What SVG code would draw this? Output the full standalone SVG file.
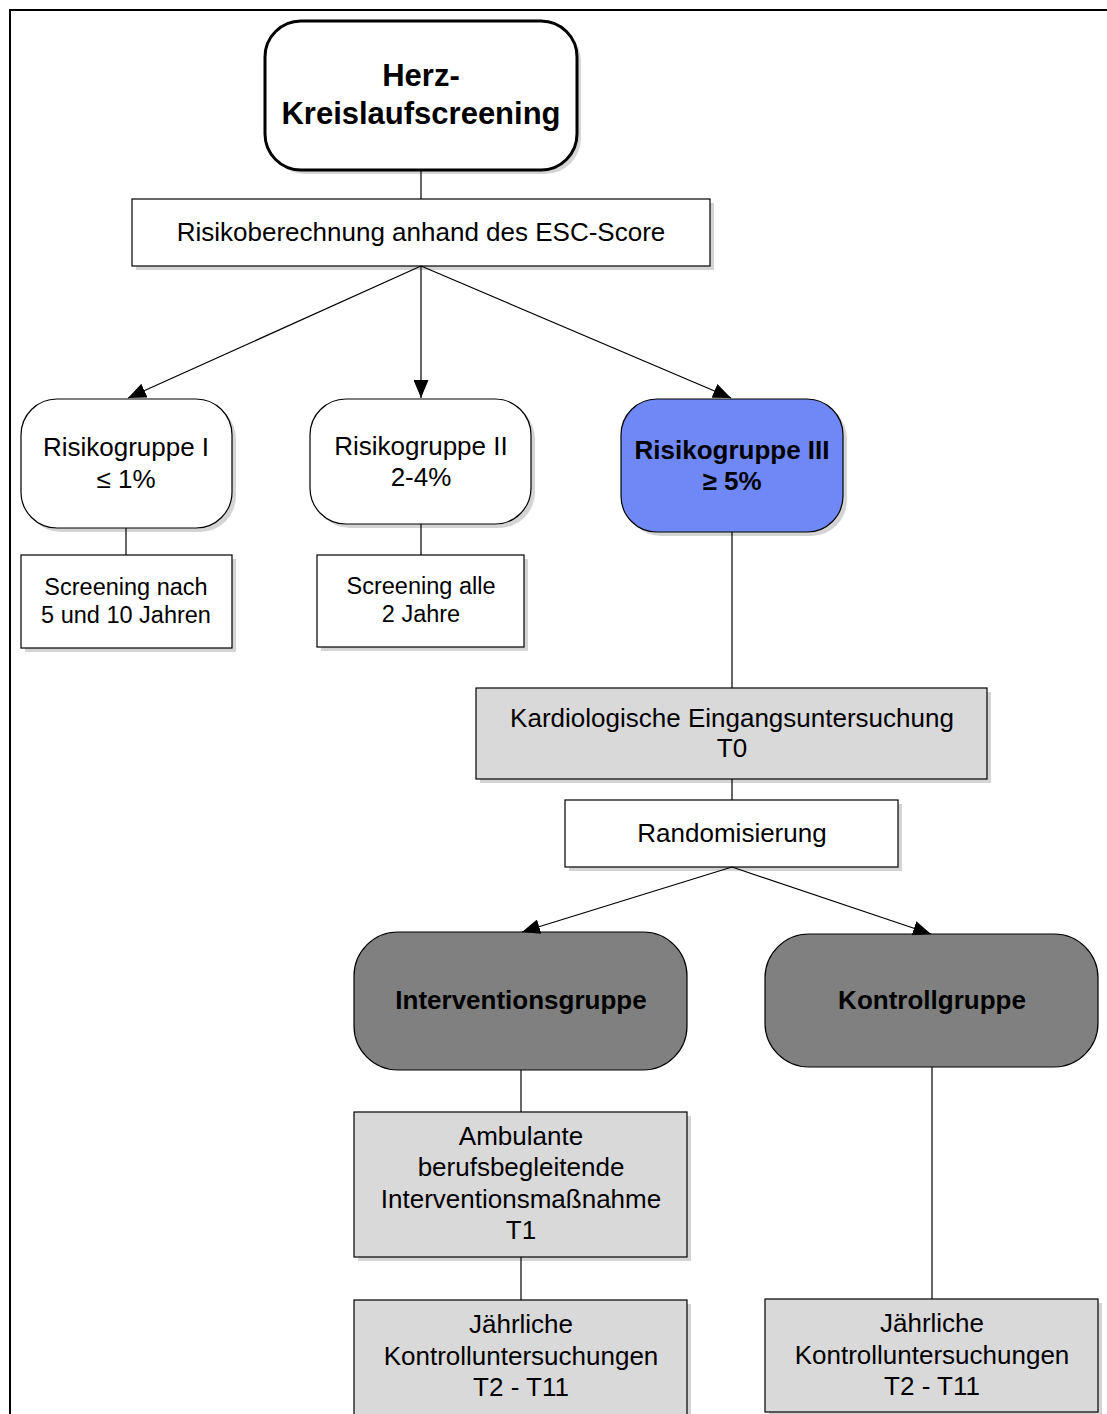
<svg xmlns="http://www.w3.org/2000/svg" width="1107" height="1414" viewBox="0 0 1107 1414">
<style>
text{font-family:"Liberation Sans",Arial,sans-serif;text-anchor:middle;fill:#000}
.r{font-size:26px}
.s{font-size:23.5px}
.b{font-size:26px;font-weight:bold}
.t{font-size:31px;font-weight:bold}
.box{stroke:#000;stroke-width:1.2}
.sh{fill:#d4d4d4}
.w{fill:#fff}
.g{fill:#d9d9d9}
.dg{fill:#808080}
.bl{fill:#6f88f5}
.c{stroke:#000;stroke-width:1.2;fill:none}
</style>
<defs>
<marker id="ah" viewBox="0 0 18 15" refX="18" refY="7.5" markerWidth="18" markerHeight="15" markerUnits="userSpaceOnUse" orient="auto">
<path d="M0,0 L18,7.5 L0,15 Z" fill="#000"/>
</marker>
</defs>
<rect width="1107" height="1414" fill="#fff"/>
<path d="M10,1414 V10 H1107" fill="none" stroke="#000" stroke-width="2"/>

<g id="n-title">
<rect class="sh" x="269" y="25" width="312" height="149" rx="36"/>
<rect x="265" y="21" width="312" height="149" rx="36" fill="#fff" stroke="#000" stroke-width="3"/>
<text class="t" x="421" y="86">Herz-</text>
<text class="t" x="421" y="124">Kreislaufscreening</text>
</g>

<g id="n-esc">
<rect class="sh" x="136" y="203" width="578" height="67"/>
<rect class="box w" x="132" y="199" width="578" height="67"/>
<text class="r" x="421" y="241">Risikoberechnung anhand des ESC-Score</text>
</g>

<g id="n-rg1">
<rect class="sh" x="25" y="403" width="211" height="129" rx="36"/>
<rect class="box w" x="21" y="399" width="211" height="129" rx="36"/>
<text class="r" x="126" y="456">Risikogruppe I</text>
<text class="r" x="126" y="488">≤ 1%</text>
</g>

<g id="n-rg2">
<rect class="sh" x="314" y="403" width="221" height="125" rx="36"/>
<rect class="box w" x="310" y="399" width="221" height="125" rx="36"/>
<text class="r" x="421" y="455">Risikogruppe II</text>
<text class="r" x="421" y="486">2-4%</text>
</g>

<g id="n-rg3">
<rect class="sh" x="625" y="403" width="222" height="133" rx="36"/>
<rect class="box bl" x="621" y="399" width="222" height="133" rx="36"/>
<text class="b" x="732" y="459">Risikogruppe III</text>
<text class="b" x="732" y="490">≥ 5%</text>
</g>

<g id="n-scr1">
<rect class="sh" x="25" y="559" width="211" height="93"/>
<rect class="box w" x="21" y="555" width="211" height="93"/>
<text class="s" x="126" y="595">Screening nach</text>
<text class="s" x="126" y="623">5 und 10 Jahren</text>
</g>

<g id="n-scr2">
<rect class="sh" x="321" y="559" width="207" height="92"/>
<rect class="box w" x="317" y="555" width="207" height="92"/>
<text class="s" x="421" y="594">Screening alle</text>
<text class="s" x="421" y="622">2 Jahre</text>
</g>

<g id="n-kardio">
<rect class="sh" x="480" y="692" width="511" height="91"/>
<rect class="box g" x="476" y="688" width="511" height="91"/>
<text class="r" x="732" y="727">Kardiologische Eingangsuntersuchung</text>
<text class="r" x="732" y="757">T0</text>
</g>

<g id="n-random">
<rect class="sh" x="569" y="804" width="333" height="67"/>
<rect class="box w" x="565" y="800" width="333" height="67"/>
<text class="r" x="732" y="842">Randomisierung</text>
</g>

<g id="n-interv">
<rect class="box dg" x="354" y="932" width="333" height="138" rx="44"/>
<text class="b" x="521" y="1009">Interventionsgruppe</text>
</g>

<g id="n-kontroll">
<rect class="box dg" x="765" y="934" width="333" height="133" rx="44"/>
<text class="b" x="932" y="1009">Kontrollgruppe</text>
</g>

<g id="n-ambulant">
<rect class="sh" x="358" y="1116" width="333" height="145"/>
<rect class="box g" x="354" y="1112" width="333" height="145"/>
<text class="r" x="521" y="1145">Ambulante</text>
<text class="r" x="521" y="1176">berufsbegleitende</text>
<text class="r" x="521" y="1208">Interventionsmaßnahme</text>
<text class="r" x="521" y="1239">T1</text>
</g>

<g id="n-jaehr1">
<rect class="sh" x="358" y="1304" width="333" height="120"/>
<rect class="box g" x="354" y="1300" width="333" height="120"/>
<text class="r" x="521" y="1333">Jährliche</text>
<text class="r" x="521" y="1365">Kontrolluntersuchungen</text>
<text class="r" x="521" y="1396">T2 - T11</text>
</g>

<g id="n-jaehr2">
<rect class="sh" x="769" y="1303" width="333" height="113"/>
<rect class="box g" x="765" y="1299" width="333" height="113"/>
<text class="r" x="932" y="1332">Jährliche</text>
<text class="r" x="932" y="1364">Kontrolluntersuchungen</text>
<text class="r" x="932" y="1395">T2 - T11</text>
</g>

<g id="connectors">
<line class="c" x1="421" y1="170" x2="421" y2="199"/>
<line class="c" x1="421" y1="266" x2="128" y2="398" marker-end="url(#ah)"/>
<line class="c" x1="421" y1="266" x2="421" y2="398" marker-end="url(#ah)"/>
<line class="c" x1="421" y1="266" x2="731" y2="398" marker-end="url(#ah)"/>
<line class="c" x1="126" y1="528" x2="126" y2="555"/>
<line class="c" x1="421" y1="524" x2="421" y2="555"/>
<line class="c" x1="732" y1="532" x2="732" y2="688"/>
<line class="c" x1="732" y1="779" x2="732" y2="800"/>
<line class="c" x1="732" y1="867" x2="522" y2="932" marker-end="url(#ah)"/>
<line class="c" x1="732" y1="867" x2="931" y2="934" marker-end="url(#ah)"/>
<line class="c" x1="521" y1="1070" x2="521" y2="1112"/>
<line class="c" x1="521" y1="1257" x2="521" y2="1300"/>
<line class="c" x1="932" y1="1067" x2="932" y2="1299"/>
</g>
</svg>
